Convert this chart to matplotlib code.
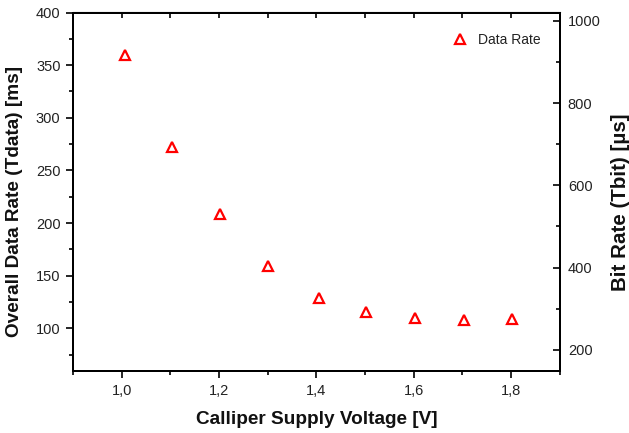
import matplotlib.pyplot as plt
from matplotlib.ticker import MultipleLocator, FixedFormatter, FixedLocator

plt.rcParams['font.family'] = ['Liberation Sans', 'DejaVu Sans']

voltage = [1.006, 1.103, 1.203, 1.301, 1.406, 1.503, 1.602, 1.703, 1.803]
data_rate_ms = [360, 272, 209, 159, 129, 116, 110, 108, 109]

x_ticks = [1.0, 1.2, 1.4, 1.6, 1.8]
x_tick_labels = ['1,0', '1,2', '1,4', '1,6', '1,8']

W, H = 629, 433
fig, ax = plt.subplots(figsize=(W / 100, H / 100), dpi=100)
fig.subplots_adjust(left=73 / W, right=559.5 / W, top=1 - 12.5 / H, bottom=1 - 370.5 / H)

ax.plot(voltage, data_rate_ms, linestyle='none', marker='^', markersize=7,
        markerfacecolor='none', markeredgecolor='#ff0000', markeredgewidth=1.6,
        label='Data Rate')

ax.set_xlim(0.9, 1.9)
ax.set_ylim(60, 400)
ax.xaxis.set_major_locator(FixedLocator(x_ticks))
ax.xaxis.set_major_formatter(FixedFormatter(x_tick_labels))
ax.xaxis.set_minor_locator(MultipleLocator(0.1))
ax.yaxis.set_major_locator(MultipleLocator(50))
ax.yaxis.set_minor_locator(MultipleLocator(25))

ax.tick_params(which='both', direction='out', width=1.2, labelsize=10.5,
               color='black', labelcolor='#222222')
ax.tick_params(which='major', length=5)
ax.tick_params(which='minor', length=3)
ax.tick_params(axis='x', pad=5)
ax.tick_params(axis='y', pad=4)
for s in ax.spines.values():
    s.set_linewidth(1.4)

# top mirror ticks pointing in
top = ax.secondary_xaxis('top')
top.xaxis.set_major_locator(MultipleLocator(0.1))
top.tick_params(direction='in', length=4, width=1.2, labeltop=False)

ax2 = ax.twinx()
ax2.set_ylim(150, 1020)
ax2.yaxis.set_major_locator(MultipleLocator(200))
ax2.yaxis.set_minor_locator(MultipleLocator(100))
ax2.tick_params(which='both', direction='in', width=1.2, labelsize=10.5, pad=6,
                labelcolor='#222222')
ax2.tick_params(which='major', length=5)
ax2.tick_params(which='minor', length=3)
for s in ax2.spines.values():
    s.set_linewidth(1.4)

# axis titles, placed where they sit in the original
fig.text(316.5 / W, 1 - 420 / H, 'Calliper Supply Voltage [V]', fontsize=13.7,
         fontweight='bold', ha='center', va='center', color='#111111')
fig.text(15 / W, 1 - 201 / H, 'Overall Data Rate (Tdata) [ms]', fontsize=13.7,
         fontweight='bold', ha='center', va='center', rotation=90, color='#111111')
fig.text(620 / W, 1 - 202 / H, 'Bit Rate (Tbit) [µs]', fontsize=14.8,
         fontweight='bold', ha='center', va='center', rotation=90, color='#111111')

leg = ax.legend(loc='center', frameon=False, fontsize=10, handletextpad=0.7,
                bbox_to_anchor=((497 - 73) / 487, (370 - 40) / 357.5), handlelength=1.2)
for t in leg.get_texts():
    t.set_color('#222222')

fig.savefig('out.png', dpi=100)
